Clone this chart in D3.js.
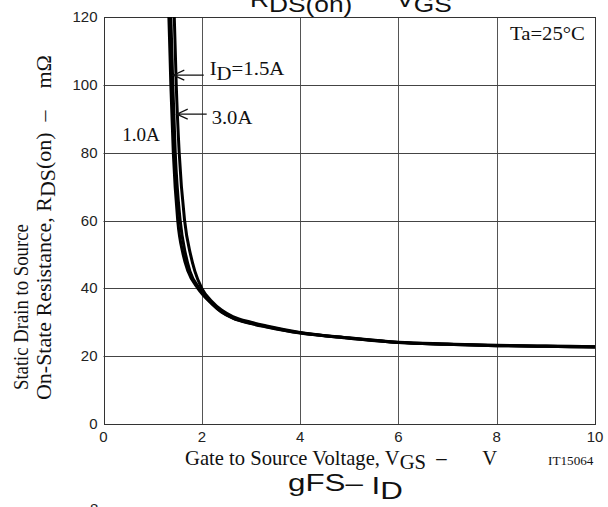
<!DOCTYPE html>
<html>
<head>
<meta charset="utf-8">
<script src="https://cdn.jsdelivr.net/npm/d3@7"></script>
<style>
  body { margin: 0; background: #fff; }
  svg { display: block; }
  text { white-space: pre; }
  .tick-label { font-family: "Liberation Sans", Arial, sans-serif; font-size: 15px; fill: #222; }
  .serif { font-family: "Liberation Serif", "Times New Roman", serif; fill: #111; }
  .sans { font-family: "Liberation Sans", Arial, sans-serif; fill: #111; }
</style>
</head>
<body>
<svg></svg>
<script>
// series: gate voltage (V) and RDS(on) (mOhm) for each drain current
var seriesNames = ["1.0A", "1.5A", "3.0A"];
var vgs10 = [1.31, 1.33, 1.37, 1.42, 1.51, 1.62, 1.72, 1.92, 2.2, 2.4, 2.63, 3.0, 3.32, 4, 5, 6, 7, 8, 9, 10];
var rds10 = [126, 120, 100, 80, 60, 50, 45, 40, 35.5, 33, 31.2, 29.6, 28.6, 26.8, 25.3, 24.0, 23.5, 23.1, 22.9, 22.7];
var vgs15 = [1.35, 1.37, 1.41, 1.46, 1.56, 1.67, 1.76, 1.95, 2.2, 2.4, 2.63, 3.0, 3.32, 4, 5, 6, 7, 8, 9, 10];
var rds15 = [126, 120, 100, 80, 60, 50, 45, 40, 35.6, 33.1, 31.3, 29.7, 28.7, 26.9, 25.3, 24.0, 23.5, 23.1, 22.9, 22.7];
var vgs30 = [1.42, 1.44, 1.48, 1.54, 1.65, 1.77, 1.86, 2.0, 2.2, 2.4, 2.63, 3.0, 3.32, 4, 5, 6, 7, 8, 9, 10];
var rds30 = [126, 120, 100, 80, 60, 50, 45, 40, 36.2, 33.6, 31.7, 30.0, 28.9, 27.0, 25.4, 24.1, 23.6, 23.2, 23.0, 22.8];

var xTicks = [0, 2, 4, 6, 8, 10];
var yTicks = [0, 20, 40, 60, 80, 100, 120];

var width = 608;
var height = 507;
var pLeft = 103.5, pRight = 595, pTop = 17, pBottom = 424;

var svg = d3.select("svg")
    .attr("width", width)
    .attr("height", height);

var x = d3.scaleLinear().domain([0, 10]).range([pLeft, pRight]);
var y = d3.scaleLinear().domain([0, 120]).range([pBottom, pTop]);

// grid lines
svg.append("g")
  .selectAll("line")
  .data(xTicks.slice(1, -1))
  .enter().append("line")
    .attr("x1", d => Math.round(x(d)) + 0.5).attr("x2", d => Math.round(x(d)) + 0.5)
    .attr("y1", pTop).attr("y2", pBottom)
    .attr("stroke", "#555");

svg.append("g")
  .selectAll("line")
  .data(yTicks.slice(1, -1))
  .enter().append("line")
    .attr("x1", pLeft).attr("x2", pRight)
    .attr("y1", d => Math.round(y(d)) + 0.5).attr("y2", d => Math.round(y(d)) + 0.5)
    .attr("stroke", "#444");

svg.append("rect")
    .attr("x", Math.round(pLeft) + 0.5).attr("y", pTop + 0.5)
    .attr("width", Math.round(pRight) - Math.round(pLeft)).attr("height", pBottom - pTop)
    .attr("fill", "none")
    .attr("stroke", "#333");

// tick labels
svg.append("g")
  .selectAll("text")
  .data(yTicks)
  .enter().append("text")
    .attr("class", "tick-label")
    .attr("x", pLeft - 6)
    .attr("y", d => y(d) + 5)
    .attr("text-anchor", "end")
    .text(d => d);

svg.append("g")
  .selectAll("text")
  .data(xTicks)
  .enter().append("text")
    .attr("class", "tick-label")
    .attr("x", d => x(d))
    .attr("y", pBottom + 18)
    .attr("text-anchor", "middle")
    .text(d => d);

// curves
svg.append("clipPath").attr("id", "plot")
  .append("rect")
    .attr("x", pLeft).attr("y", pTop)
    .attr("width", pRight - pLeft).attr("height", pBottom - pTop);

var line = d3.line()
    .x(d => x(d[0]))
    .y(d => y(d[1]))
    .curve(d3.curveMonotoneX);

var curves = [d3.zip(vgs10, rds10), d3.zip(vgs15, rds15), d3.zip(vgs30, rds30)];

svg.append("g")
    .attr("clip-path", "url(#plot)")
  .selectAll("path")
  .data(curves)
  .enter().append("path")
    .attr("d", line)
    .attr("fill", "none")
    .attr("stroke", "#000")
    .attr("stroke-width", 3);

// text helper: parts are [string, baseline shift], stretched to a given width
function label(cls, size, px, py, w, parts, rot) {
  var g = svg.append("g");
  var t = g.append("text").attr("class", cls).attr("font-size", size);
  var shift = 0;
  parts.forEach(p => {
    t.append("tspan").attr("dy", p[1] - shift).text(p[0]);
    shift = p[1];
  });
  var k = w / t.node().getBBox().width;
  g.attr("transform", "translate(" + px + "," + py + ")" + (rot ? " rotate(" + rot + ")" : "") + " scale(" + k + ",1)");
}

// annotations
function arrow(x1, x2, yy) {
  svg.append("path")
    .attr("d", "M" + x1 + "," + yy + "H" + x2 +
               "M" + (x2 + 11) + "," + (yy - 5) + "L" + x2 + "," + yy + "L" + (x2 + 11) + "," + (yy + 5))
    .attr("fill", "none")
    .attr("stroke", "#111")
    .attr("stroke-width", 1.2);
}
arrow(x(2.04), x(1.42), y(103) + 0.5);
arrow(x(2.1), x(1.49), y(91.5) + 0.5);

label("serif", 19, x(2.16), 75, 75, [["I", 0], ["D", 5], ["=1.5A", 0]]);
label("serif", 19, x(2.2), 124, 41, [[seriesNames[2], 0]]);
label("serif", 19, x(0.38), 141, 38, [[seriesNames[0], 0]]);
label("serif", 19, 510, 40, 75, [["Ta=25°C", 0]]);

// axis titles
label("serif", 20, 185, 465, 313, [["Gate to Source Voltage, V", 0], ["GS", 4], ["  –       V", 0]]);
label("serif", 13, 548, 465, 46, [["IT15064", 0]]);
label("serif", 20, 28, 390, 166, [["Static Drain to Source", 0]], -90);
label("serif", 22, 51, 400, 345, [["On-State Resistance, R", 0], ["DS", 4], ["(on)  –    mΩ", 0]], -90);

// chart titles above and below, cut by the edges
label("sans", 22, 250, 7, 202, [["R", 0], ["DS(on)", 5], ["      V", 0], ["GS", 5]]);
label("sans", 23, 288, 491, 115, [["gFS– ", 0], ["I", 3], ["D", 8]]);

svg.append("text").attr("class", "tick-label")
    .attr("x", 90).attr("y", 514)
    .text("8");
</script>
</body>
</html>
